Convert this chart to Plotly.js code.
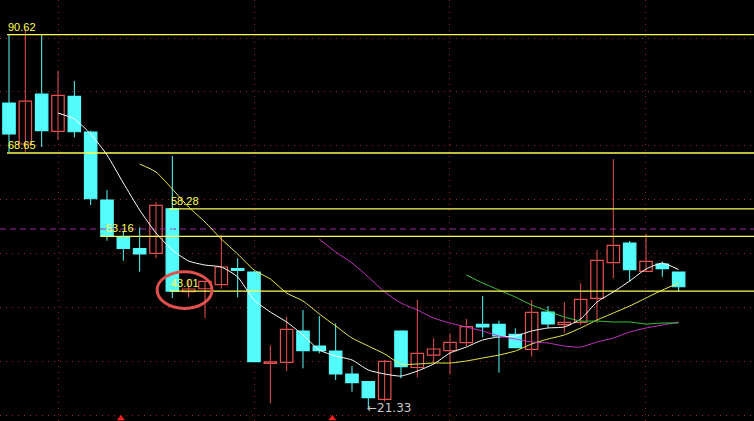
<!DOCTYPE html>
<html>
<head>
<meta charset="utf-8">
<script src="https://cdn.plot.ly/plotly-3.0.1.min.js"></script>
<style>
html,body{margin:0;padding:0;background:#000;overflow:hidden;}
#chart{width:754px;height:421px;}
</style>
</head>
<body>
<div id="chart"></div>
<script>
// ---- candle data (index 0..41) ----
const openP  = [77.93,70.32,79.60,72.68,79.18,72.55,59.92,53.11,50.88,50.03,58.28,42.90,43.45,44.20,47.17,46.55,29.60,29.79,35.60,32.81,31.89,27.62,26.19,22.92,35.60,28.82,31.14,31.94,33.43,36.84,36.84,34.99,32.20,39.13,36.77,37.21,41.67,48.28,51.94,46.68,48.04,46.55];
const highP  = [90.62,91.80,90.62,83.93,82.02,72.80,61.78,54.04,54.85,59.55,68.09,45.07,44.83,53.42,49.10,46.74,32.94,38.25,39.50,38.38,37.03,29.10,26.20,30.22,35.65,41.36,34.24,35.17,37.83,42.10,37.51,36.10,41.36,40.24,40.98,44.46,50.64,67.53,52.31,53.61,48.47,46.55];
const lowP   = [68.83,68.83,69.76,71.06,71.56,58.99,52.37,48.65,46.61,49.10,41.73,41.86,37.96,43.45,41.86,29.85,22.18,28.17,28.67,31.46,26.50,24.33,21.33,22.47,26.82,27.00,29.47,27.56,32.81,34.43,27.86,32.40,30.83,36.21,35.28,36.71,37.14,45.38,44.75,46.68,45.68,42.90];
const closeP = [72.18,78.30,72.79,79.36,72.60,60.16,53.24,50.95,49.90,58.94,43.01,43.40,44.83,47.48,46.87,29.90,29.85,35.91,31.94,31.94,27.62,26.00,23.22,29.97,28.97,31.46,32.26,33.50,36.40,36.34,34.67,32.50,39.07,36.90,37.21,41.48,48.73,51.51,46.98,48.54,47.17,43.82];

// ---- moving averages ----
const maWhiteStart = 3;
const maWhite = [76.07,74.96,72.18,68.28,63.08,58.07,53.8,50.64,48.6,47.85,47.48,45.63,41.36,39.13,37.27,34.86,32.07,30.96,30.22,28.36,27.62,27.24,28.17,29.47,31.51,32.63,33.93,34.49,34.67,35.6,36.16,36.35,37.83,40.98,42.84,44.88,47.1,48.2,47.0];
const maYellowStart = 8;
const maYellow = [66.61,65.12,61.96,58.62,55.84,52.68,49.9,46.93,45.25,42.65,41.17,38.76,36.53,34.3,32.81,31.33,29.47,29.47,29.66,29.66,30.03,30.59,31.14,31.89,33.19,34.11,34.86,36.16,37.64,38.94,40.24,41.73,43.2,44.5];
const maMagentaStart = 19;
const maMagenta = [52.68,50.27,48.22,45.63,42.84,40.8,39.5,38.01,37.08,36.34,35.6,34.67,34.11,33.56,33.37,32.81,32.63,33.56,34.3,35.41,36.16,36.71,37.27];
const maGreenStart = 28;
const maGreen = [46.0,44.51,43.21,41.91,40.43,39.31,38.2,37.46,37.46,37.27,37.27,36.9,37.08,37.08];

// ---- reference levels ----
const levelValues = [90.62, 68.65, 58.28, 53.16, 43.01];
const levelLabels = ['90.62', '68.65', '58.28', '53.16', '43.01'];
const levelStartIdx = [-0.12, -0.12, 9.8, 5.6, 9.85];
const levelLabelIdx = [-0.12, -0.12, 9.85, 5.9, 9.85];
const dashedLevel = 54.54;
const lowLabel = '←21.33';
const lowIdx = 22;
const signalIdx = [6.85, 19.8];
const circleIdx = [9.07, 12.43];
const circlePrice = [39.8, 46.6];

const N = openP.length;
const idx = [...Array(N).keys()];
const xRange = [-0.551, 45.613];
const yRange = [18.89, 97.06];

const CYAN = '#54fcfc', RED = '#e8524f', YEL = '#ffff55';

const isUp = idx.map(i => closeP[i] >= openP[i]);
const pad = (start, arr) => idx.map(i => (i >= start && i - start < arr.length) ? arr[i - start] : null);

function wicks(up) {
  const xs = [], ys = [];
  idx.forEach(i => { if (isUp[i] === up) { xs.push(i, i, null); ys.push(lowP[i], highP[i], null); } });
  return {x: xs, y: ys, type: 'scatter', mode: 'lines', hoverinfo: 'skip',
          line: {color: up ? RED : CYAN, width: 1}, showlegend: false};
}

const traces = [];
// dashed purple level
traces.push({x: xRange, y: [dashedLevel, dashedLevel], type: 'scatter', mode: 'lines',
  line: {color: '#a028a8', width: 1.2, dash: '6px,4px'}, showlegend: false, hoverinfo: 'skip'});
traces.push(wicks(true));
traces.push(wicks(false));
traces.push({
  type: 'bar', x: idx,
  y: idx.map(i => Math.max(Math.abs(closeP[i] - openP[i]), 0.18)),
  base: idx.map(i => Math.min(openP[i], closeP[i])),
  width: 0.76,
  marker: {color: idx.map(i => isUp[i] ? '#000000' : CYAN),
           line: {color: idx.map(i => isUp[i] ? RED : CYAN), width: 1.2}},
  showlegend: false, hoverinfo: 'skip'
});
// moving averages
[[maWhiteStart, maWhite, '#ffffff'], [maYellowStart, maYellow, '#f0f050'],
 [maMagentaStart, maMagenta, '#c832c8'], [maGreenStart, maGreen, '#3cc83c']].forEach(([s, a, c]) => {
  traces.push({x: idx, y: pad(s, a), type: 'scatter', mode: 'lines', connectgaps: false,
    line: {color: c, width: 1, shape: 'spline', smoothing: 0.6}, showlegend: false, hoverinfo: 'skip'});
});
// level lines
levelValues.forEach((v, k) => {
  traces.push({x: [levelStartIdx[k], xRange[1]], y: [v, v], type: 'scatter', mode: 'lines',
    line: {color: YEL, width: 1.3}, showlegend: false, hoverinfo: 'skip'});
});
// signal triangles at bottom
traces.push({x: signalIdx, y: signalIdx.map(() => yRange[0] + 0.45), type: 'scatter', mode: 'markers',
  marker: {symbol: 'triangle-up', size: 7, color: '#ff2020'}, showlegend: false, hoverinfo: 'skip', cliponaxis: false});

const annotations = levelValues.map((v, k) => ({
  x: levelLabelIdx[k], y: v, xref: 'x', yref: 'y', text: levelLabels[k], showarrow: false,
  xanchor: 'left', yanchor: 'bottom', xshift: -1, yshift: 0,
  font: {family: 'Liberation Sans, Arial, sans-serif', size: 11, color: YEL}
}));
annotations.push({x: lowIdx, y: lowP[lowIdx], xref: 'x', yref: 'y', text: lowLabel, showarrow: false,
  xanchor: 'left', yanchor: 'middle', xshift: -3, yshift: 0,
  font: {family: 'DejaVu Sans, sans-serif', size: 12, color: '#c8c8c8'}});

const layout = {
  width: 754, height: 421,
  margin: {l: 0, r: 0, t: 0, b: 0, pad: 0},
  paper_bgcolor: '#000000', plot_bgcolor: '#000000',
  showlegend: false, bargap: 0,
  xaxis: {range: xRange, showgrid: true, tick0: 3, dtick: 12, gridcolor: '#9a2020', gridwidth: 1,
          griddash: '1px,5px', zeroline: false, showticklabels: false, ticks: '', showline: false, fixedrange: true},
  yaxis: {range: yRange, showgrid: true, tick0: 0, dtick: 10, gridcolor: '#9a2020', gridwidth: 1,
          griddash: '1px,5px', zeroline: false, showticklabels: false, ticks: '', showline: false, fixedrange: true},
  shapes: [{type: 'circle', xref: 'x', yref: 'y', x0: circleIdx[0], x1: circleIdx[1], y0: circlePrice[0], y1: circlePrice[1],
            line: {color: '#e0504c', width: 3}, layer: 'above'}],
  annotations: annotations
};

Plotly.newPlot('chart', traces, layout, {staticPlot: true, displayModeBar: false});
</script>
</body>
</html>
